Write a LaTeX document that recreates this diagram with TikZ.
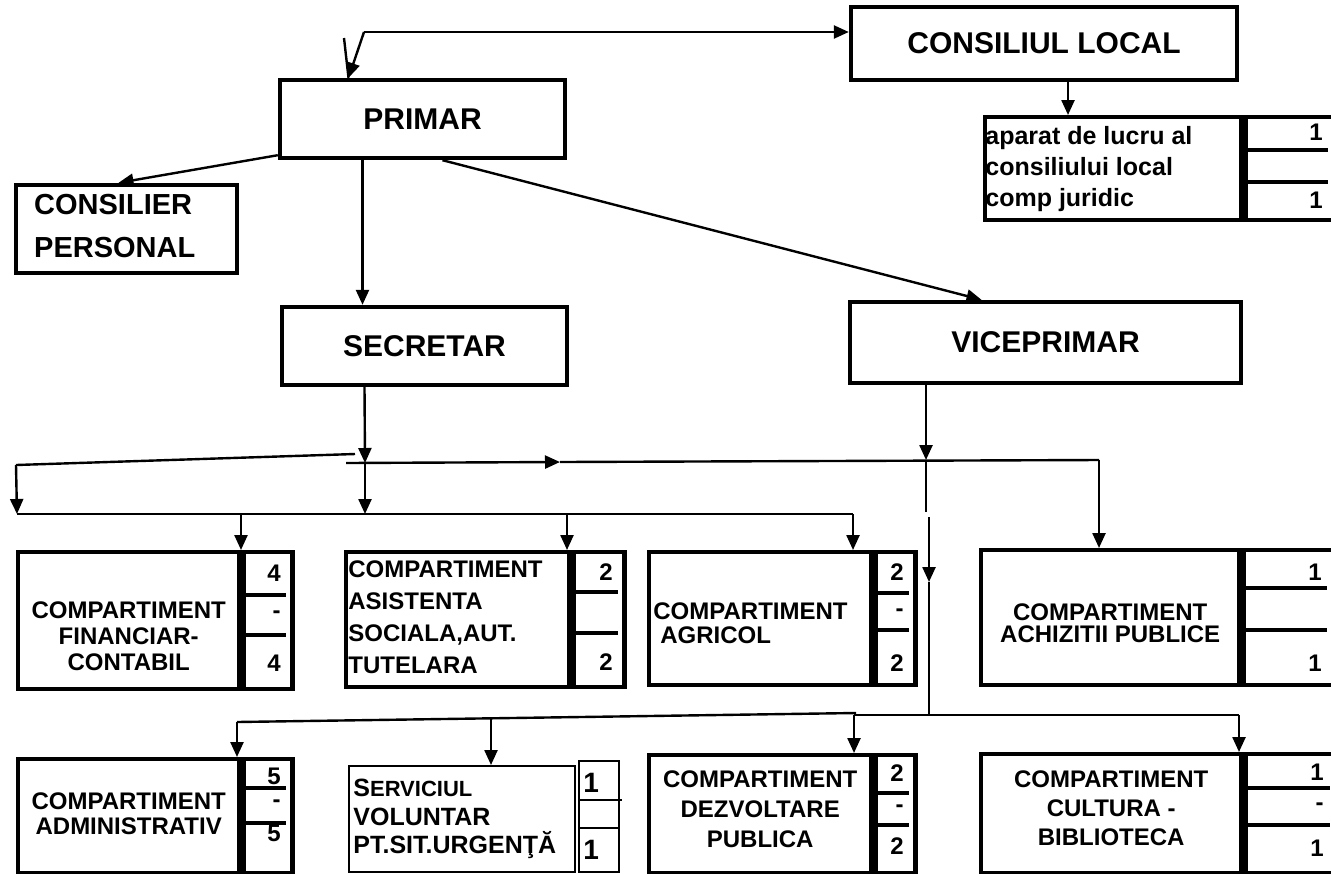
\documentclass[tikz,border=0pt]{standalone}
\usepackage{fontspec}
\setmainfont{Liberation Sans}
\usetikzlibrary{arrows.meta}

\begin{document}
\begin{tikzpicture}[
    x=0.5pt, y=-0.5pt,
    % Estilo para las casetas de conducere
    sef/.style={
        draw,
        line width=2.2pt,
        inner sep=0pt,
        font=\fontsize{15}{18}\selectfont\bfseries
    },
    % Estilo para las casetas de compartimente
    caseta/.style={
        draw,
        line width=2.2pt,
        inner sep=0pt,
        anchor=north west
    },
    despart/.style={line width=1.6pt},
    scris/.style={inner sep=0pt, font=\fontsize{12}{13}\selectfont\bfseries},
    nr/.style={inner sep=0pt, anchor=east, font=\fontsize{12}{14}\selectfont\bfseries},
    % Sageti
    sag/.style={-{Triangle[length=7.5pt,width=6.5pt]}, line width=1.2pt},
    fir/.style={line width=1.2pt}
]
    \useasboundingbox (0,0) rectangle (1331,873);

    % --- CONDUCERE ---
    \node[sef, minimum width=193pt, minimum height=36.5pt] (cl) at (1044,43.5) {CONSILIUL LOCAL};
    \node[sef, minimum width=142.5pt, minimum height=39pt] (primar) at (422.5,119) {PRIMAR};
    \node[sef, minimum width=110.5pt, minimum height=44pt] (cons) at (126.5,229) {};
    \node[scris, font=\fontsize{14.5}{21.5}\selectfont\bfseries, align=left, anchor=west] (consT)
        at ([xshift=10pt,yshift=1.25pt]cons.west) {CONSILIER\\PERSONAL};
    \node[sef, minimum width=142.5pt, minimum height=39pt] (sec) at (424.5,346) {SECRETAR};
    \node[sef, minimum width=195.5pt, minimum height=40.5pt] (vice) at (1045.5,342.5) {VICEPRIMAR};

    % --- APARAT CONSILIU LOCAL ---
    \node[caseta, minimum width=128pt, minimum height=51.5pt] (apl) at (983,115) {};
    \node[caseta, minimum width=44.5pt, minimum height=51.5pt] (aplN) at (apl.north east) {};
    \draw[despart] (1239,150) -- (1328,150);
    \draw[despart] (1239,182) -- (1328,182);
    \node[scris, font=\fontsize{12.5}{15.5}\selectfont\bfseries, align=left, anchor=west] (aplT)
        at ([xshift=1pt]apl.west) {aparat de lucru al\\consiliului local\\comp juridic};
    \node[nr] (apl1) at (1323,132) {1};
    \node[nr] (apl3) at (1323,200) {1};

    % --- COMPARTIMENTE (rand 1) ---
    \node[caseta, minimum width=110.5pt, minimum height=68.5pt] (fin) at (16,550) {};
    \node[caseta, minimum width=24.5pt, minimum height=68.5pt] (finN) at (fin.north east) {};
    \draw[despart] (237,595) -- (286,595);
    \draw[despart] (237,635) -- (286,635);
    \node[scris, align=center] (finT) at ([yshift=-7.75pt]fin.center) {COMPARTIMENT\\FINANCIAR-\\CONTABIL};
    \node[nr] (fin1) at (281,573) {4};
    \node[nr] (fin2) at (281,615) {-};
    \node[nr] (fin3) at (281,663) {4};

    \node[caseta, minimum width=111.5pt, minimum height=67.5pt] (asis) at (344,550) {};
    \node[caseta, minimum width=25.5pt, minimum height=67.5pt] (asisN) at (asis.north east) {};
    \draw[despart] (567,592) -- (618,592);
    \draw[despart] (567,633) -- (618,633);
    \node[scris, font=\fontsize{12}{16}\selectfont\bfseries, align=left, anchor=west] (asisT)
        at ([xshift=2pt,yshift=1.25pt]asis.west) {COMPARTIMENT\\ASISTENTA\\SOCIALA,AUT.\\TUTELARA};
    \node[nr] (asis1) at (613,572) {2};
    \node[nr] (asis3) at (613,662) {2};

    \node[caseta, minimum width=111pt, minimum height=66.5pt] (agr) at (647,550) {};
    \node[caseta, minimum width=20pt, minimum height=66.5pt] (agrN) at (agr.north east) {};
    \draw[despart] (869,593) -- (909,593);
    \draw[despart] (869,630) -- (909,630);
    \node[scris, font=\fontsize{12}{12}\selectfont\bfseries, align=left, anchor=west] (agrT)
        at ([xshift=3pt,yshift=-2.5pt]agr.west) {COMPARTIMENT\\\hspace*{3.5pt}AGRICOL};
    \node[nr] (agr1) at (904,572) {2};
    \node[nr] (agr2) at (904,613) {-};
    \node[nr] (agr3) at (904,663) {2};

    \node[caseta, minimum width=129pt, minimum height=67.5pt] (ach) at (979,548) {};
    \node[caseta, minimum width=45pt, minimum height=67.5pt] (achN) at (ach.north east) {};
    \draw[despart] (1237,588) -- (1327,588);
    \draw[despart] (1237,630) -- (1327,630);
    \node[scris, font=\fontsize{12}{11}\selectfont\bfseries, align=center] (achT)
        at ([yshift=-2.75pt]ach.center) {COMPARTIMENT\\ACHIZITII PUBLICE};
    \node[nr] (ach1) at (1322,572) {1};
    \node[nr] (ach3) at (1322,663) {1};

    % --- COMPARTIMENTE (rand 2) ---
    \node[caseta, minimum width=110.5pt, minimum height=57pt] (adm) at (16,757) {};
    \node[caseta, minimum width=24.5pt, minimum height=57pt] (admN) at (adm.north east) {};
    \draw[despart] (237,788) -- (286,788);
    \draw[despart] (237,823) -- (286,823);
    \node[scris, font=\fontsize{12}{12.5}\selectfont\bfseries, align=center] (admT)
        at ([yshift=1.25pt]adm.center) {COMPARTIMENT\\ADMINISTRATIV};
    \node[nr] (adm1) at (281,776) {5};
    \node[nr] (adm2) at (281,804) {-};
    \node[nr] (adm3) at (281,833) {5};

    \node[caseta, line width=1.2pt, minimum width=113pt, minimum height=53pt] (serv) at (348,765) {};
    \node[caseta, line width=1.2pt, minimum width=20pt, minimum height=55.5pt] (servN) at (578,760) {};
    \draw[fir] (578,800) -- (622,800);
    \draw[fir] (578,828) -- (618,828);
    \node[scris, font=\fontsize{12.5}{14.25}\selectfont\bfseries, align=left, anchor=west] (servT)
        at ([xshift=2.5pt]serv.west) {S{\fontsize{11}{14}\selectfont ERVICIUL}\\VOLUNTAR\\PT.SIT.URGENŢĂ};
    \node[nr, anchor=west, font=\fontsize{14}{16}\selectfont\bfseries] (serv1) at (583,783) {1};
    \node[nr, anchor=west, font=\fontsize{14}{16}\selectfont\bfseries] (serv3) at (583,850) {1};

    \node[caseta, minimum width=111pt, minimum height=59pt] (dez) at (647,753) {};
    \node[caseta, minimum width=20pt, minimum height=59pt] (dezN) at (dez.north east) {};
    \draw[despart] (869,793) -- (909,793);
    \draw[despart] (869,825) -- (909,825);
    \node[scris, font=\fontsize{12}{15}\selectfont\bfseries, align=center] (dezT)
        at ([yshift=2.5pt]dez.center) {COMPARTIMENT\\DEZVOLTARE\\PUBLICA};
    \node[nr] (dez1) at (904,773) {2};
    \node[nr] (dez2) at (904,809) {-};
    \node[nr] (dez3) at (904,846) {2};

    \node[caseta, minimum width=130pt, minimum height=59.5pt] (cult) at (979,752) {};
    \node[caseta, minimum width=45.5pt, minimum height=59.5pt] (cultN) at (cult.north east) {};
    \draw[despart] (1239,788) -- (1330,788);
    \draw[despart] (1239,825) -- (1330,825);
    \node[scris, font=\fontsize{12}{14.5}\selectfont\bfseries, align=center] (cultT)
        at ([yshift=2.75pt]cult.center) {COMPARTIMENT\\CULTURA -\\BIBLIOTECA};
    \node[nr] (cult1) at (1324,772) {1};
    \node[nr] (cult2) at (1324,807) {-};
    \node[nr] (cult3) at (1324,848) {1};

    % --- PUNCTE DE LEGATURA ---
    \coordinate (sus)  at (364,32);
    \coordinate (sus2) at (344,38);
    \coordinate (s0) at (16,465);
    \coordinate (s2) at (355,454);
    \coordinate (s1) at (365,463);
    \coordinate (m1) at (346,463);
    \coordinate (m2) at (560,462);
    \coordinate (v1) at (926,460);
    \coordinate (v2) at (1099,460);
    \coordinate (b0) at (17,514);
    \coordinate (b1) at (241,514);
    \coordinate (b2) at (567,514);
    \coordinate (b3) at (853,514);
    \coordinate (v3) at (926,512);
    \coordinate (v4) at (929,517);
    \coordinate (v5) at (929,582);
    \coordinate (v6) at (929,715);
    \coordinate (j0) at (237,722);
    \coordinate (j1) at (491,719);
    \coordinate (j9) at (856,713);
    \coordinate (k0) at (854,715);
    \coordinate (k9) at (1239,715);

    % --- LEGATURI DE SUS ---
    \draw[sag] (sus) -- (sus -| cl.west);
    \draw[sag] (sus) -- ([xshift=-37pt]primar.north);
    \draw[fir] (sus2) -- ([xshift=-37pt]primar.north);
    \draw[sag] ([xshift=12pt]cl.south) -- ([xshift=12pt]cl.south |- apl.north);
    \draw[sag] ([yshift=2.5pt]primar.south west) -- ([xshift=-4pt]cons.north);
    \draw[sag] ([xshift=-30pt]primar.south) -- ([xshift=-30pt]primar.south |- sec.north);
    \draw[sag] ([xshift=10pt]primar.south) -- ([xshift=-32pt]vice.north);

    % --- LEGATURI SECRETAR ---
    \draw[sag] ([xshift=-30pt]sec.south) -- (s1);
    \draw[fir] (s0) -- (s2);
    \draw[sag] (s0) -- (b0);
    \draw[sag] (s1) -- (s1 |- b0);
    \draw[fir] (b0) -- (b3);
    \draw[sag] (b1) -- (b1 |- fin.north);
    \draw[sag] (b2) -- (b2 |- asis.north);
    \draw[sag] (b3) -- (b3 |- agr.north);

    % --- LEGATURI VICEPRIMAR ---
    \draw[sag] (m1) -- (m2);
    \draw[fir] (m2) -- (v2);
    \draw[sag] ([xshift=-59.75pt]vice.south) -- (v1);
    \draw[sag] (v2) -- (v2 |- ach.north);
    \draw[fir] (v1) -- (v3);
    \draw[sag] (v4) -- (v5);
    \draw[fir] (v5) -- (v6);
    \draw[fir] (j0) -- (j9);
    \draw[fir] (k0) -- (k9);
    \draw[sag] (j0) -- (j0 |- adm.north);
    \draw[sag] (j1) -- (j1 |- serv.north);
    \draw[sag] (k0) -- (k0 |- dez.north);
    \draw[sag] (k9) -- (k9 |- cult.north);

\end{tikzpicture}
\end{document}
